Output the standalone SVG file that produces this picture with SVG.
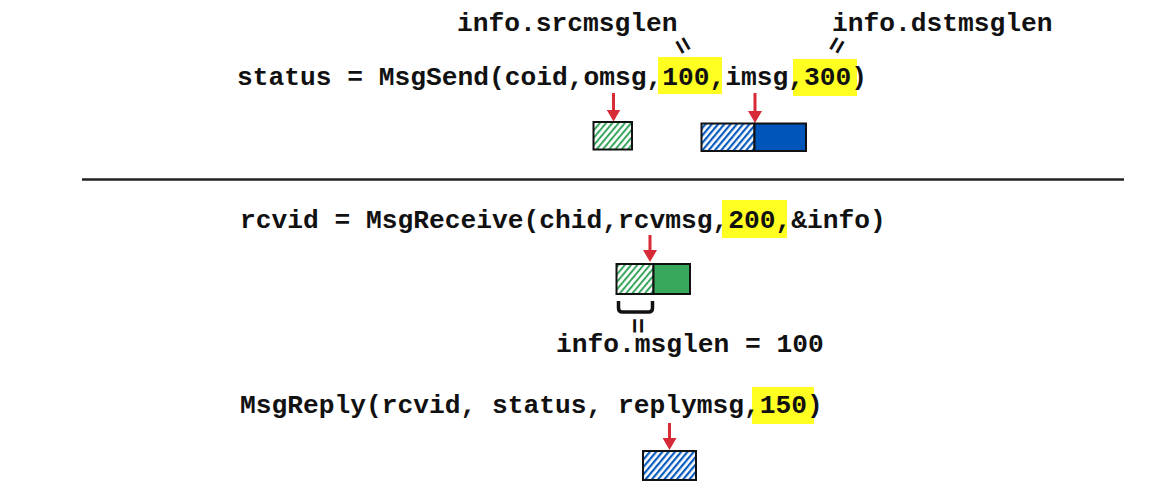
<svg xmlns="http://www.w3.org/2000/svg" width="1162" height="498" viewBox="0 0 1162 498">
<style>
.code{font-family:"Liberation Mono","Courier New",monospace;font-weight:bold;font-size:26.25px;fill:#111;}
.hl{fill:#ffff22;}
.box{stroke:#111;stroke-width:2;}
.arrow{stroke:#d62b36;stroke-width:3;fill:none;marker-end:url(#ah);}
</style>
<defs>
<marker id="ah" viewBox="0 0 12 14" refX="3" refY="7" markerWidth="12" markerHeight="14" markerUnits="userSpaceOnUse" orient="auto">
<path d="M0,0 L12,7 L0,14 z" fill="#d62b36"/>
</marker>
<pattern id="hg" patternUnits="userSpaceOnUse" width="4.8" height="10" patternTransform="rotate(40)">
<rect width="4.8" height="10" fill="#fff"/>
<rect width="2" height="10" fill="#3aa65e"/>
</pattern>
<pattern id="hb" patternUnits="userSpaceOnUse" width="4.8" height="10" patternTransform="rotate(40)">
<rect width="4.8" height="10" fill="#fff"/>
<rect width="2.2" height="10" fill="#0a5bbf"/>
</pattern>
</defs>
<rect width="1162" height="498" fill="#fff"/>

<g id="send-call">
<rect class="hl" x="658" y="57" width="64" height="37"/>
<rect class="hl" x="793" y="59" width="64" height="37"/>
<text class="code" x="237" y="85">status = MsgSend(coid,omsg,100,imsg,300)</text>
</g>
<g id="srcmsglen-label">
<text class="code" x="457" y="31">info.srcmsglen</text>
<text class="code" x="682" y="53.5" text-anchor="middle" transform="rotate(60 682 46)">=</text>
</g>
<g id="dstmsglen-label">
<text class="code" x="832" y="31">info.dstmsglen</text>
<text class="code" x="838" y="53.5" text-anchor="middle" transform="rotate(-60 838 46)">=</text>
</g>
<g id="omsg-buffer">
<rect class="box" x="593.5" y="122" width="38.5" height="27.5" fill="url(#hg)"/>
</g>
<g id="imsg-buffer">
<rect class="box" x="701.5" y="123.5" width="53" height="27.5" fill="url(#hb)"/>
<rect class="box" x="754.5" y="123.5" width="51.5" height="27.5" fill="#0055bb"/>
</g>

<g id="divider">
<line x1="82" y1="179.5" x2="1124" y2="179.5" stroke="#222" stroke-width="2.5"/>
</g>

<g id="receive-call">
<rect class="hl" x="722" y="200" width="65" height="38"/>
<text class="code" x="240" y="228">rcvid = MsgReceive(chid,rcvmsg,200,&amp;info)</text>
</g>
<g id="rcvmsg-buffer">
<rect class="box" x="616.5" y="264" width="37" height="30" fill="url(#hg)"/>
<rect class="box" x="653.5" y="264" width="36.5" height="30" fill="#38a85c"/>
<path d="M618.5,301 v7 q0,4 4,4 h26 q4,0 4,-4 v-7" fill="none" stroke="#111" stroke-width="3.5"/>
</g>
<g id="msglen-label">
<text class="code" x="636" y="333.5" text-anchor="middle" transform="rotate(90 636 326)">=</text>
<text class="code" x="556" y="352">info.msglen = 100</text>
</g>

<g id="reply-call">
<rect class="hl" x="752" y="387" width="62" height="37"/>
<text class="code" x="240" y="413">MsgReply(rcvid, status, replymsg,150)</text>
</g>
<g id="replymsg-buffer">
<rect class="box" x="643" y="451" width="53" height="29" fill="url(#hb)"/>
</g>

<g id="connectors">
<line class="arrow" x1="613.5" y1="93" x2="613.5" y2="112.5"/>
<line class="arrow" x1="755" y1="93" x2="755" y2="114"/>
<line class="arrow" x1="650" y1="235" x2="650" y2="253"/>
<line class="arrow" x1="669.5" y1="423" x2="669.5" y2="441"/>
</g>
</svg>
